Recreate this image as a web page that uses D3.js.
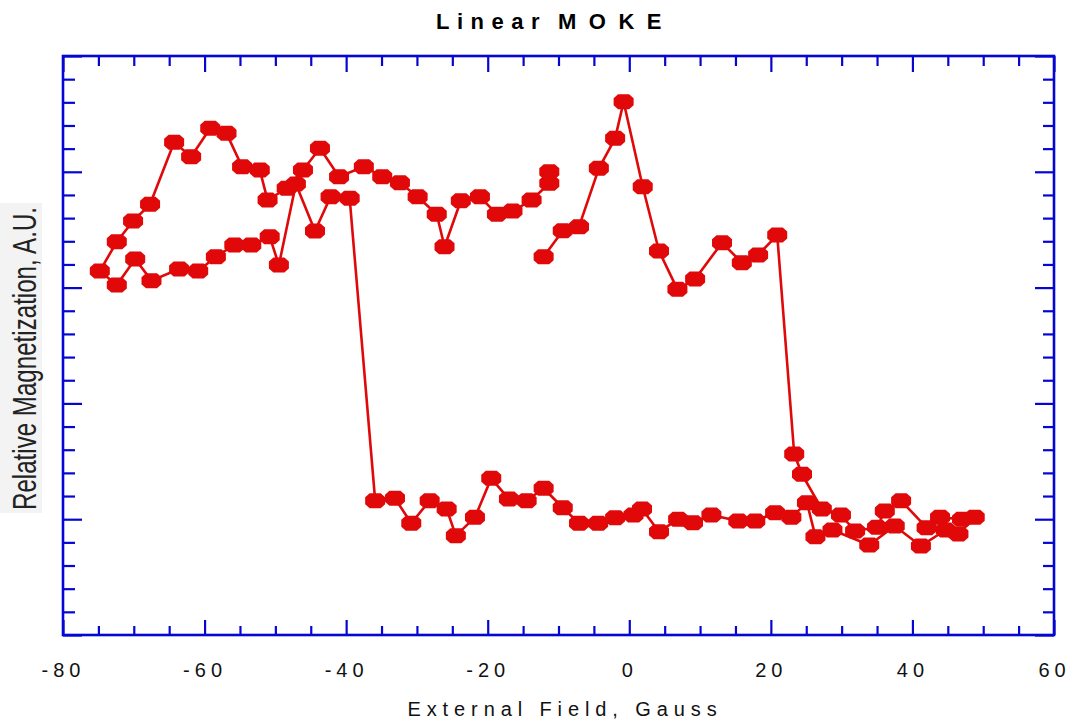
<!DOCTYPE html>
<html>
<head>
<meta charset="utf-8">
<script src="https://cdn.jsdelivr.net/npm/d3@7"></script>
<style>
  html, body { margin: 0; padding: 0; background: #ffffff; }
  svg { display: block; }
</style>
</head>
<body>
<svg id="chart" width="1077" height="723"></svg>
<script>
// ---------------- data ----------------
// Decreasing field sweep (+50 G -> -75 G)
const fieldDown = [48.8, 46.5, 44.7, 41.2, 37.5, 33.9, 28.7, 26.3, 25.1, 22.9, 20.6, 17.8, 15.4, 11.6, 9.0, 6.9, 4.2, 1.8, 0.6, -2.0, -4.4, -7.1, -9.4, -12.1, -14.5, -17.0, -19.5, -21.8, -24.5, -25.8, -28.2, -30.8, -33.1, -35.9,
  -39.5, -42.2, -44.4, -47.1, -49.5, -50.8, -53.4, -55.8, -58.4, -60.9, -63.6, -67.5, -69.8, -72.4, -74.8];
const magDown = [1.016, 0.872, 0.907, 0.769, 0.941, 0.777, 0.907, 0.849, 1.143, 1.016, 1.056, 0.984, 0.984, 1.036, 0.970, 0.999, 0.892, 1.088, 1.036, 1.013, 0.965, 0.965, 1.099, 1.267, 1.160, 1.174, 1.353, 1.016, 0.858, 1.088, 1.160, 0.965, 1.180, 1.160,
  3.771, 3.785, 3.489, 3.895, 3.195, 3.440, 3.368, 3.368, 3.267, 3.143, 3.161, 3.060, 3.247, 3.022, 3.143];

// Increasing field sweep, first part (-75 G -> -11 G)
const fieldUpA = [-72.4, -70.1, -67.7, -64.3, -61.9, -59.2, -56.9, -54.7, -52.2, -51.1, -48.4, -46.1, -43.7, -41.0, -37.5, -34.9, -32.4, -29.9, -27.2, -26.1, -23.8, -21.1, -18.7, -16.5, -13.8, -11.3, -11.3];
const magUpA = [3.396, 3.575, 3.719, 4.255, 4.130, 4.376, 4.332, 4.044, 4.016, 3.756, 3.858, 4.016, 4.203, 3.958, 4.044, 3.958, 3.906, 3.785, 3.633, 3.353, 3.750, 3.785, 3.633, 3.661, 3.756, 3.901, 4.001];

// Increasing field sweep, second part (-12 G -> +47 G)
const fieldUpB = [-12.1, -9.4, -7.1, -4.3, -2.0, -0.8, 1.9, 4.2, 6.8, 9.3, 13.1, 15.9, 18.2, 20.9, 23.3, 24.4, 27.2, 29.9, 31.9, 35.0, 36.1, 38.4, 42.0, 43.9, 47.0];
const magUpB = [3.267, 3.491, 3.526, 4.030, 4.289, 4.605, 3.871, 3.316, 2.985, 3.074, 3.388, 3.215, 3.282, 3.454, 1.563, 1.388, 1.088, 1.036, 0.898, 0.930, 1.071, 1.160, 0.927, 1.016, 0.999];

const xMajorTicks = [-80, -60, -40, -20, 0, 20, 40, 60];
const xTickLabels = ["-80", "-60", "-40", "-20", "0", "20", "40", "60"];
const yMajorTicks = [0, 1, 2, 3, 4, 5];

const titleWord1 = "Linear";
const titleWord2 = "MOKE";
const xTitle = "External Field, Gauss";
const yTitle = "Relative Magnetization, A.U.";

// ---------------- layout ----------------
const padL = 63, padR = 1054, padT = 56, padB = 635;
const axisColor = "#0606d2";
const dataColor = "#e00808";

const svg = d3.select("#chart");

const x = d3.scaleLinear().domain([-80, 60]).range([padL, padR]);
const y = d3.scaleLinear().domain([0, 5]).range([padB, padT]);

const xMinor = d3.range(-80, 60.001, 5).filter(v => !xMajorTicks.includes(v));
const yMinor = d3.range(0, 5.001, 0.2).map(v => +v.toFixed(1)).filter(v => Math.abs(v - Math.round(v)) > 1e-6);

function styleAxis(g) {
  g.select(".domain").remove();
  g.selectAll(".tick line").attr("stroke", axisColor).attr("stroke-width", 2.2);
}

// bottom
svg.append("g").attr("transform", `translate(0,${padB})`)
  .call(d3.axisBottom(x).tickValues(xMinor).tickSize(-9).tickFormat(""))
  .call(styleAxis);
const bx = svg.append("g").attr("transform", `translate(0,${padB})`)
  .call(d3.axisBottom(x).tickValues(xMajorTicks).tickSize(-15).tickPadding(28)
    .tickFormat((d, i) => xTickLabels[i]))
  .call(styleAxis);
bx.selectAll(".tick text")
  .attr("fill", "#111")
  .attr("font-family", "'Liberation Sans', Arial, sans-serif")
  .attr("font-size", 20)
  .attr("letter-spacing", "5px")
  .attr("dx", "0px");

// top
svg.append("g").attr("transform", `translate(0,${padT})`)
  .call(d3.axisTop(x).tickValues(xMinor).tickSize(-10).tickFormat(""))
  .call(styleAxis);
svg.append("g").attr("transform", `translate(0,${padT})`)
  .call(d3.axisTop(x).tickValues(xMajorTicks).tickSize(-16).tickFormat(""))
  .call(styleAxis);

// left
svg.append("g").attr("transform", `translate(${padL},0)`)
  .call(d3.axisLeft(y).tickValues(yMinor).tickSize(-12).tickFormat(""))
  .call(styleAxis);
svg.append("g").attr("transform", `translate(${padL},0)`)
  .call(d3.axisLeft(y).tickValues(yMajorTicks).tickSize(-19).tickFormat(""))
  .call(styleAxis);

// right
svg.append("g").attr("transform", `translate(${padR},0)`)
  .call(d3.axisRight(y).tickValues(yMinor).tickSize(-11).tickFormat(""))
  .call(styleAxis);
svg.append("g").attr("transform", `translate(${padR},0)`)
  .call(d3.axisRight(y).tickValues(yMajorTicks).tickSize(-19).tickFormat(""))
  .call(styleAxis);

// frame
svg.append("rect")
  .attr("x", padL).attr("y", padT)
  .attr("width", padR - padL).attr("height", padB - padT)
  .attr("fill", "none").attr("stroke", axisColor).attr("stroke-width", 2.6);

// ---------------- data ----------------
const down = fieldDown.map((f, i) => [f, magDown[i]]);
const upA = fieldUpA.map((f, i) => [f, magUpA[i]]);
const upB = fieldUpB.map((f, i) => [f, magUpB[i]]);

const line = d3.line().x(d => x(d[0])).y(d => y(d[1]));
const gLines = svg.append("g");
[down, [down[down.length - 1], ...upA], upB].forEach(s => {
  gLines.append("path").attr("d", line(s))
    .attr("fill", "none").attr("stroke", dataColor)
    .attr("stroke-width", 2.6).attr("stroke-linejoin", "round");
});

const octagon = "M-5.5,-7.5L5.5,-7.5L10,-3.5L10,3.5L5.5,7.5L-5.5,7.5L-10,3.5L-10,-3.5Z";
svg.append("g").selectAll("path")
  .data([...down, ...upA, ...upB])
  .join("path")
  .attr("d", octagon)
  .attr("transform", d => `translate(${x(d[0])},${y(d[1])})`)
  .attr("fill", dataColor);

// ---------------- texts ----------------
const title = svg.append("text")
  .attr("x", 436).attr("y", 29)
  .attr("font-family", "'Liberation Sans', Arial, sans-serif")
  .attr("font-weight", "bold").attr("font-size", 22)
  .attr("fill", "#000");
title.append("tspan").attr("letter-spacing", "7.5px").text(titleWord1);
title.append("tspan").attr("letter-spacing", "12.5px").attr("dx", "11").text(titleWord2);

svg.append("text")
  .attr("x", 565).attr("y", 716)
  .attr("text-anchor", "middle")
  .attr("font-family", "'Liberation Sans', Arial, sans-serif")
  .attr("font-size", 20).attr("letter-spacing", "5.9px")
  .attr("fill", "#111")
  .text(xTitle);

svg.append("rect")
  .attr("x", 0).attr("y", 203).attr("width", 42).attr("height", 310)
  .attr("fill", "#f3f3f3");
svg.append("text")
  .attr("transform", "translate(36,510) rotate(-90)")
  .attr("font-family", "'Liberation Sans Narrow', 'Liberation Sans', Arial, sans-serif")
  .attr("font-size", 33)
  .attr("textLength", 303).attr("lengthAdjust", "spacingAndGlyphs")
  .attr("fill", "#222")
  .text(yTitle);
</script>
</body>
</html>
